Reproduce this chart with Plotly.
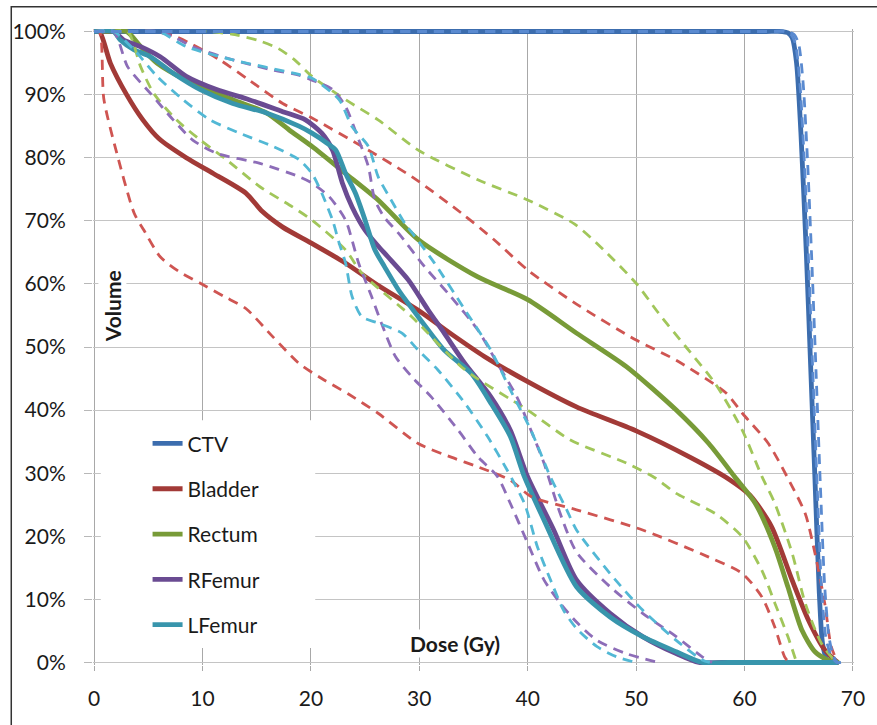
import plotly.graph_objects as go

# ---------------- data (dose in Gy, volume in %) ----------------
ctv_dose = [0, 10, 20, 30, 40, 50, 58, 62, 63.5, 64.0, 64.4, 64.8, 65.2, 65.7, 66.1, 66.5, 66.9, 67.2, 67.6, 68.1, 68.7]
ctv_vol = [100, 100, 100, 100, 100, 100, 100, 100, 100, 99.8, 99, 95, 84, 65, 47, 29, 11, 3, 0.5, 0, 0]
ctv_a_dose = [0, 10, 20, 30, 40, 50, 58, 62, 64.0, 64.6, 65.0, 65.4, 65.8, 66.2, 66.6, 67.0, 67.4, 67.8, 68.2, 68.6, 68.9]
ctv_a_vol = [100, 100, 100, 100, 100, 100, 100, 100, 100, 99.5, 98, 92, 80, 64, 46, 28, 12, 4, 1, 0, 0]
ctv_b_dose = [0, 10, 20, 30, 40, 50, 58, 62, 63.8, 64.3, 64.7, 65.1, 65.5, 65.9, 66.3, 66.7, 67.1, 67.5, 68.0, 68.5, 68.8]
ctv_b_vol = [100, 100, 100, 100, 100, 100, 100, 100, 100, 99.5, 98, 92, 80, 64, 46, 28, 12, 4, 1, 0, 0]

bladder_dose = [0, 0.5, 1.5, 3.0, 4.5, 6.0, 8.5, 11.0, 14.0, 15.5, 17.4, 20, 23, 26, 30, 33, 36, 40,
                44.5, 50, 55, 58.6, 60.5, 62.5, 64.4, 65.9, 67.4, 68.6]
bladder_vol = [100, 100, 95, 90, 86, 83, 80, 77.5, 74.4, 71.5, 69, 66.5, 63.5, 60, 55.7, 52, 48.5, 44.5,
               40.5, 36.7, 32.5, 29, 26.5, 21.5, 13, 6.7, 2, 0]
bladder_lo_dose = [0, 0.5, 0.9, 2.1, 3.7, 4.6, 6.1, 7.8, 9.8, 12, 14.0, 16.5, 18.9, 21, 23.5, 26.2, 29.9,
                   33, 35.4, 38.4, 40.3, 44.5, 50.6, 56.7, 59.8, 61.6, 62.8, 63.7, 64.1]
bladder_lo_vol = [100, 100, 89.3, 80.7, 71.2, 68.5, 64.3, 62, 60.1, 58, 56.1, 51.6, 47.4, 45, 42.5, 39.5,
                  34.7, 32.5, 31, 28.9, 26.3, 24.2, 21, 16.7, 14.1, 10.4, 5.6, 0.9, 0]
bladder_hi_dose = [0, 3, 5.5, 7.5, 9.1, 11.6, 14.3, 17.4, 20.1, 24.7, 29.3, 33.9, 36.9, 40, 44.5, 50, 53.7,
                   58.3, 59.8, 62.2, 64.0, 65.6, 66.5, 67.4, 68.0, 68.6]
bladder_hi_vol = [100, 100, 100, 99.2, 97.9, 95.5, 92.3, 88.6, 86.3, 81.8, 77, 71.2, 67, 62.2, 56.8, 51.1, 47.9,
                  42.7, 39.5, 34.7, 29.2, 23.6, 17.3, 9.4, 2.5, 0]

rectum_dose = [0, 1.5, 3.0, 4.3, 5.8, 8.5, 12.8, 15.9, 18.0, 20.1, 23.2, 26.2, 29.9, 35.4, 40, 44.5, 49.1,
               53.7, 56.7, 59.2, 61, 62.8, 64.0, 65.3, 66.5, 67.7, 68.7]
rectum_vol = [100, 100, 100, 97.6, 95, 92.3, 89.2, 87.1, 84.4, 81.8, 77.5, 73.3, 67, 61.1, 57.5, 52.2, 46.9,
              40, 34.7, 29.2, 25.2, 18.3, 12, 5.1, 1.7, 0.4, 0]
rectum_hi_dose = [0, 4, 8, 10.5, 13, 15.3, 17.0, 18.5, 20.1, 23.2, 26.2, 29.9, 35.4, 40, 44.3, 47.0, 50, 52.1,
                  54.6, 57.3, 59.8, 61.6, 62.8, 64.4, 65.6, 67.1, 68.3, 68.8]
rectum_hi_vol = [100, 100, 100, 100, 99.5, 98.5, 97.3, 95.5, 92.9, 89.2, 86, 81.2, 76.5, 73.3, 69.5, 65.4, 60.1, 55.3,
                 50, 44.2, 36.8, 29.5, 25.2, 17.3, 9.4, 3, 0.4, 0]
rectum_lo_dose = [0, 1.5, 3.1, 4.3, 5.5, 7.6, 9.8, 12.2, 15.3, 18.3, 20.1, 23.2, 24.7, 29.3, 34.2, 40, 43.9,
                  49.1, 51.8, 53.7, 57.3, 59.8, 61.6, 62.8, 64.0, 64.8]
rectum_lo_vol = [100, 100, 100, 94.4, 90.2, 86, 82.8, 79.7, 75.4, 72.2, 70.1, 65.4, 61.7, 54.8, 46.4, 40, 35.3,
                 31.6, 29.2, 26.8, 23.6, 19.9, 14.6, 9.4, 4.1, 0]

rfemur_dose = [0, 1.8, 2.7, 4.3, 6.1, 8.5, 11.3, 14.3, 17.4, 19.5, 21.0, 22.0, 22.9, 23.8, 25.0, 26.2,
               27.1, 29.0, 30.8, 32.3, 34.2, 36.6, 38.4, 40.0, 42.4, 44.5, 47.6, 50.6, 53.7, 55.8, 58, 61, 64, 66.5, 68.6]
rfemur_vol = [100, 100, 98.7, 97.6, 96, 92.9, 90.8, 89.2, 87.3, 86, 83.9, 81.2, 76, 72.2, 68.5, 66,
              64.3, 60.6, 55.9, 52.2, 47.4, 42.1, 36.8, 29.4, 21, 13.1, 7.8, 4.1, 1.4, 0, 0, 0, 0, 0, 0]
rfemur_hi_dose = [0, 3, 6.0, 7.5, 9.1, 12.8, 16.5, 18.9, 20.1, 22.0, 23.2, 24.4, 25.3, 25.9, 26.8, 28.1,
                  30.5, 32.9, 35.4, 37.2, 39.0, 40.3, 41.5, 43.0, 44.5, 47.6, 50.6, 53.7, 56.1, 57.0]
rfemur_hi_vol = [100, 100, 100, 99, 97.6, 95.5, 93.9, 93.1, 92.3, 90.8, 88.1, 82.9, 78.6, 73.3, 70.5, 68.0,
                 62.7, 58, 52.7, 47.4, 42.1, 36.8, 31.6, 23.6, 17.5, 12, 7.8, 4.1, 0.9, 0]
rfemur_lo_dose = [0, 1.8, 3.1, 5.2, 7.3, 9.1, 11.3, 15.3, 18.9, 20.1, 21.7, 23.2, 24.4, 25.6, 26.5, 27.8,
                  29.3, 31.1, 33.6, 35.4, 37.2, 38.4, 40.0, 41.5, 43.0, 44.5, 46.4, 49.1, 52.1]
rfemur_lo_vol = [100, 100, 94.4, 90.2, 86, 82.8, 80.7, 79.1, 77, 76, 73.8, 70.1, 63.3, 58, 53.8, 48.5,
                 45.3, 42.1, 36.8, 32.6, 29.5, 25.2, 18.9, 13.1, 9.4, 6.4, 3.5, 1.4, 0]

lfemur_dose = [0, 1.8, 2.4, 3.7, 5.2, 7.3, 9.8, 12.8, 15.9, 18.9, 20.1, 21.5, 22.3, 23.2, 24.1, 25.0,
               25.9, 26.8, 28.1, 29.9, 32.3, 34.8, 36.6, 38.4, 39.7, 41.5, 44.5, 47.6, 50.6, 53.7, 56.1,
               58.5, 61, 64, 66.5, 68.6]
lfemur_vol = [100, 100, 98.7, 97.1, 96, 93.4, 90.8, 88.6, 87.1, 85.0, 83.9, 82.3, 81.2, 77.5, 74.4, 70.1,
              65.4, 62.7, 59, 54.8, 49.5, 45.8, 41.1, 35.8, 29.4, 22.6, 12, 7.2, 4.1, 1.7, 0,
              0, 0, 0, 0, 0]
lfemur_hi_dose = [0, 3, 5.8, 6.4, 8.5, 12.8, 18.9, 20.1, 22.6, 23.8, 25.3, 26.2, 27.4, 28.7, 29.6, 31.4,
                  34.2, 36.6, 38.4, 40.3, 42.1, 43.6, 44.5, 47.6, 50.6, 53.7, 56.1, 56.8]
lfemur_hi_vol = [100, 100, 100, 99.7, 97.6, 95.5, 93.2, 92.6, 89.2, 84.9, 81.8, 77, 73.3, 69.5, 67.5, 63.3,
                 55.9, 49.5, 43.2, 36.8, 29.4, 24.2, 21, 14.1, 8.3, 3.5, 0.4, 0]
lfemur_lo_dose = [0, 1.8, 3.7, 5.8, 8.2, 10.7, 13.4, 16.5, 18.9, 20.1, 21.0, 22.0, 22.6, 23.2, 23.8, 24.7,
                  26.2, 28.4, 29.9, 31.7, 34.2, 36.3, 38.1, 39.7, 40.9, 42.1, 43.3, 44.5, 46.4, 48.2, 50.0]
lfemur_lo_vol = [100, 100, 97.1, 92.9, 89.2, 86, 83.9, 81.8, 79.7, 77.5, 74.4, 70.1, 66.5, 63.3, 58, 54.8,
                 53.8, 52.2, 49.5, 46.4, 41.1, 35.8, 30.5, 25.2, 18.3, 13.1, 8.3, 5.4, 2.5, 0.9, 0]

structure_names = ["CTV", "Bladder", "Rectum", "RFemur", "LFemur"]
solid_colors = ["#3C6DAE", "#A23A37", "#789B38", "#6A4B92", "#3895AC"]
dash_colors = ["#5A8AD0", "#CF5552", "#A1C65A", "#8D6DB8", "#52B8D5"]

x_ticks = [0, 10, 20, 30, 40, 50, 60, 70]
y_ticks = [0, 10, 20, 30, 40, 50, 60, 70, 80, 90, 100]

solid_curves = [(ctv_dose, ctv_vol), (bladder_dose, bladder_vol), (rectum_dose, rectum_vol),
                (rfemur_dose, rfemur_vol), (lfemur_dose, lfemur_vol)]
dashed_curves = [
    [(bladder_lo_dose, bladder_lo_vol), (bladder_hi_dose, bladder_hi_vol)],
    [(rectum_lo_dose, rectum_lo_vol), (rectum_hi_dose, rectum_hi_vol)],
    [(rfemur_lo_dose, rfemur_lo_vol), (rfemur_hi_dose, rfemur_hi_vol)],
    [(lfemur_lo_dose, lfemur_lo_vol), (lfemur_hi_dose, lfemur_hi_vol)],
    [(ctv_a_dose, ctv_a_vol), (ctv_b_dose, ctv_b_vol)],
]
dashed_color_idx = [1, 2, 3, 4, 0]

FONT = "Lato"
TXT = "#1a1a1a"

fig = go.Figure()

for i, (d, v) in enumerate(solid_curves):
    fig.add_trace(go.Scatter(
        x=d, y=v, mode="lines", name=structure_names[i], legendgroup=structure_names[i],
        line=dict(color=solid_colors[i], width=4.8, shape="spline", smoothing=0.7),
        hoverinfo="skip"))

for k, pair in enumerate(dashed_curves):
    ci = dashed_color_idx[k]
    for (d, v) in pair:
        fig.add_trace(go.Scatter(
            x=d, y=v, mode="lines", showlegend=False,
            line=dict(color=dash_colors[ci], width=2.8, dash="10px,7px", shape="spline", smoothing=0.7),
            hoverinfo="skip"))

fig.update_layout(
    width=877, height=725,
    margin=dict(l=92.2, r=19.2, t=29.2, b=60.2, pad=0),
    paper_bgcolor="white", plot_bgcolor="white",
    font=dict(family=FONT, size=21, color=TXT),
    showlegend=True,
    legend=dict(
        x=0.0717, y=0.380, xanchor="left", yanchor="top",
        bgcolor="rgba(255,255,255,0)", borderwidth=0,
        font=dict(family=FONT, size=21, color=TXT),
        tracegroupgap=15, traceorder="grouped",
    ),
    xaxis=dict(
        range=[-0.1, 70.1], tickvals=x_ticks, ticktext=[str(t) for t in x_ticks],
        showgrid=True, gridcolor="#A8A8A8", gridwidth=1, zeroline=False, showline=False,
        ticks="outside", ticklen=5, tickcolor="#A8A8A8", ticklabelstandoff=10,
        tickfont=dict(family=FONT, size=21, color=TXT),
    ),
    yaxis=dict(
        range=[-0.4, 100.4], tickvals=y_ticks, ticktext=[f"{t}%" for t in y_ticks],
        showgrid=True, gridcolor="#C4C4C4", gridwidth=1.4, zeroline=False, showline=False,
        ticks="outside", ticklen=8, tickcolor="#B8B8B8", ticklabelstandoff=14,
        tickfont=dict(family=FONT, size=21, color=TXT),
    ),
)

# white area behind legend (covers gridlines as in the original)
fig.add_shape(type="rect", xref="x", yref="y", x0=0.62, x1=20.4, y0=2.3, y1=38.4,
              fillcolor="white", line=dict(width=0), layer="above")

# axis titles placed inside the plot area
fig.add_annotation(text="<b>Volume</b>", xref="x", yref="y", x=1.7, y=56.4, textangle=-90,
                   showarrow=False, bgcolor="white", font=dict(family=FONT, size=21, color=TXT))
fig.add_annotation(text="<b>Dose (Gy)</b>", xref="x", yref="y", x=33.3, y=3.0,
                   showarrow=False, bgcolor="white", font=dict(family=FONT, size=21, color=TXT))

# outer chart border
fig.add_shape(type="rect", xref="paper", yref="paper", x0=-0.1074, x1=1.04, y0=-0.12, y1=1.035,
              line=dict(color="#333333", width=1.5), fillcolor="rgba(0,0,0,0)", layer="above")

fig.write_html("out.html")
